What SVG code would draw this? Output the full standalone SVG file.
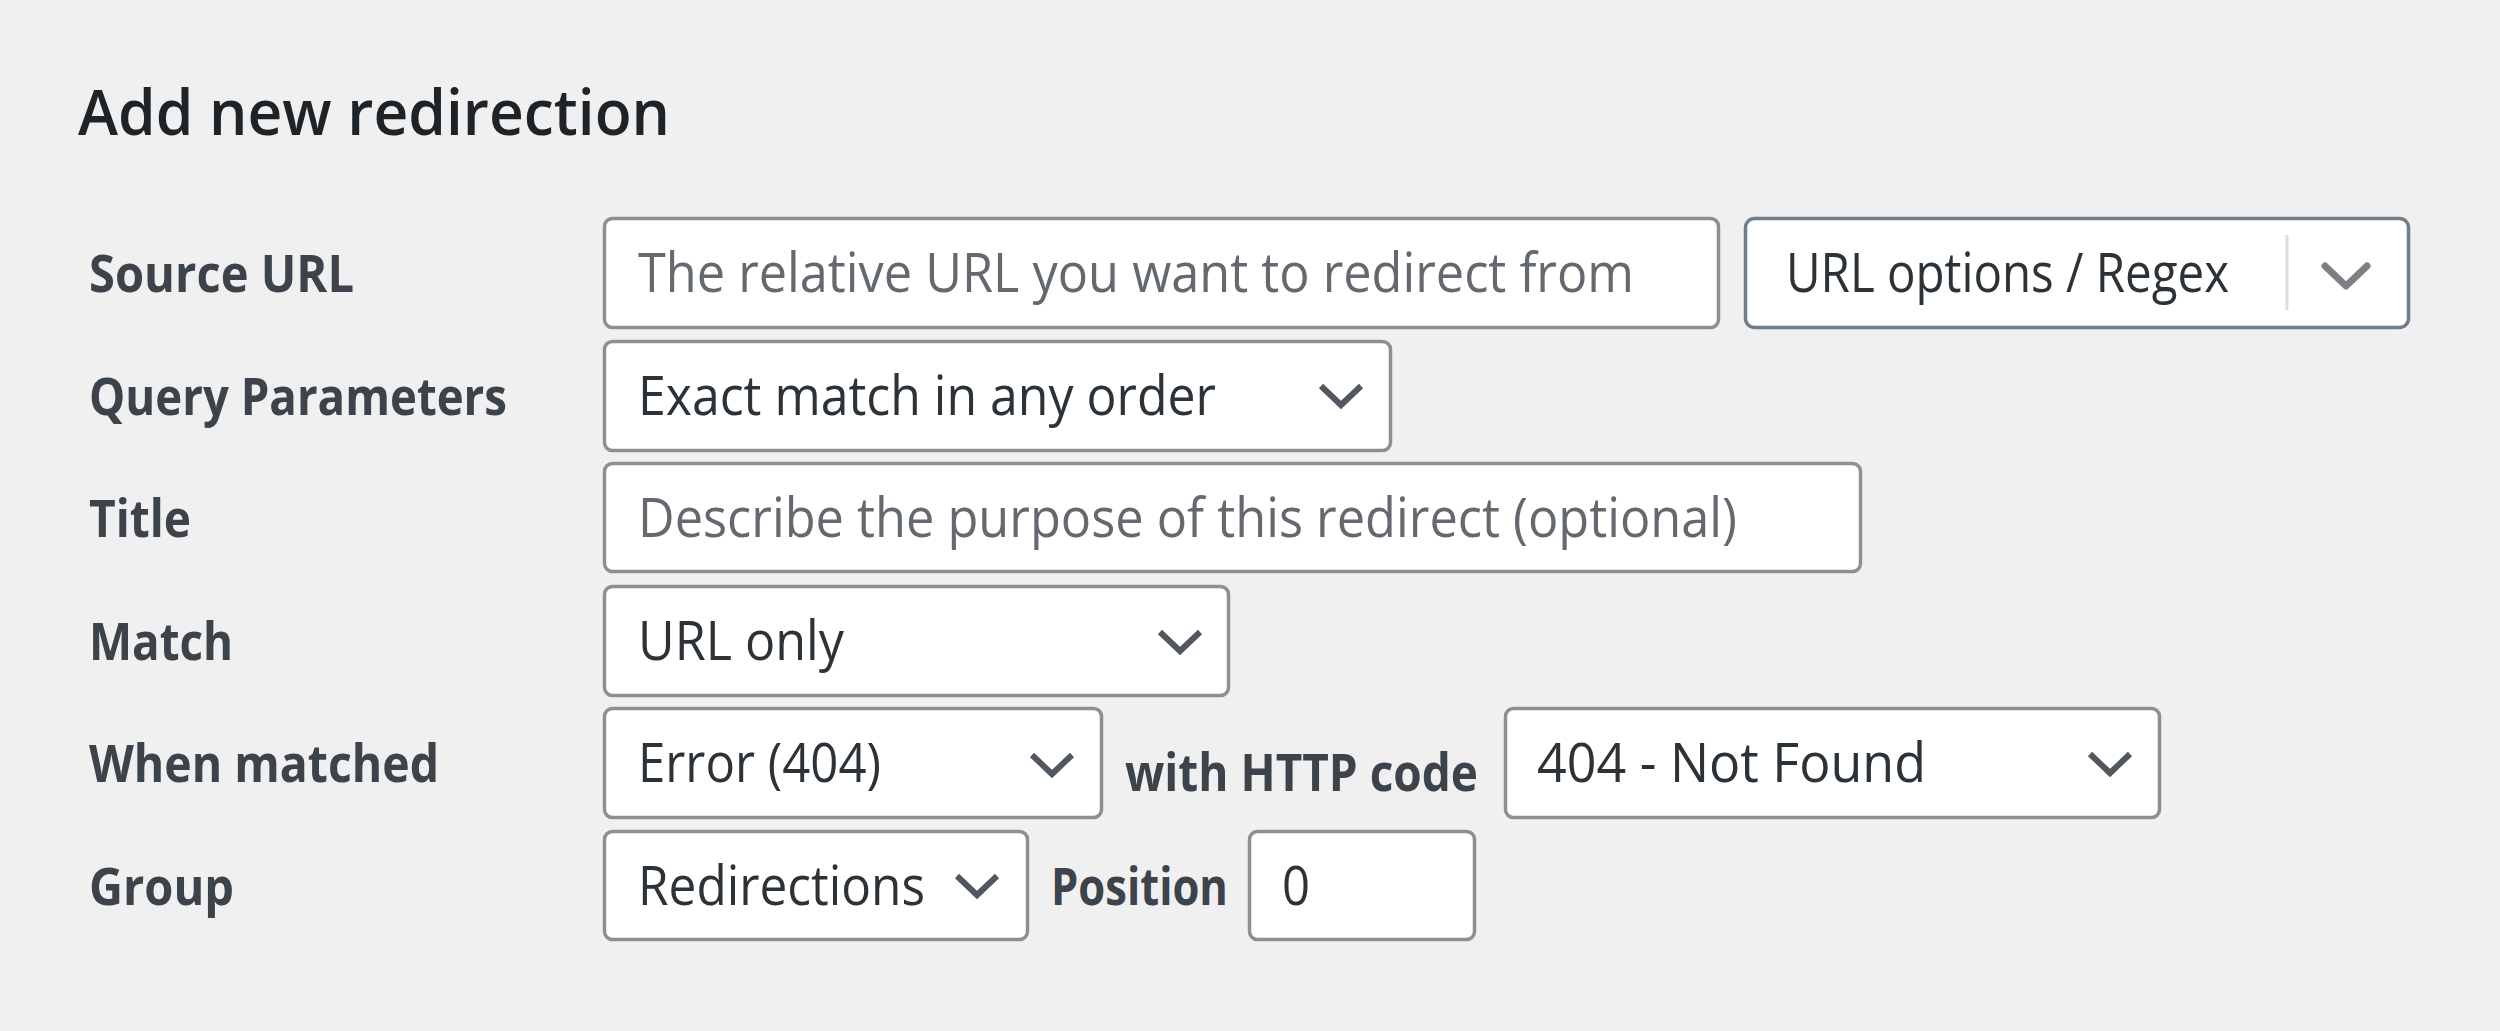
<svg xmlns="http://www.w3.org/2000/svg" xmlns:xlink="http://www.w3.org/1999/xlink" width="2500" height="1031" viewBox="0 0 2500 1031">
<style>
  text { font-family: "Open Sans", "Noto Sans", "Liberation Sans", sans-serif; }
  .title { font-size: 64px; fill: #1d2327; font-weight: 600; }
  .lbl { font-size: 52px; font-weight: 700; fill: #3c434a; }
  .val { font-size: 55px; fill: #2c3338; }
  .ph { font-size: 55px; fill: #646970; }
  .box { fill: #ffffff; stroke: #8c8f94; stroke-width: 3.5; }
  .box2 { fill: #ffffff; stroke: #717e89; stroke-width: 3.5; }
  .chev { fill: none; stroke: #50575e; stroke-width: 6; stroke-linejoin: miter; stroke-linecap: butt; }
  .chev2 { fill: none; stroke: #7c7f83; stroke-width: 7; stroke-linejoin: round; stroke-linecap: round; }
</style>
<defs>
  <path id="chevron" d="M-20,-9 L0,10 L20,-9"/>
  <path id="chevron2" d="M-21,-10 L0,10 L21,-10"/>
</defs>
<rect x="0" y="0" width="2500" height="1031" fill="#f0f0f1"/>
<g id="heading">
  <text class="title" x="78" y="135" textLength="592" lengthAdjust="spacingAndGlyphs">Add new redirection</text>
</g>
<g id="row-source-url">
  <text class="lbl" x="89" y="292" textLength="265" lengthAdjust="spacingAndGlyphs">Source URL</text>
  <g id="source-url-input">
    <rect class="box" x="604.5" y="218.5" width="1114" height="109" rx="8"/>
    <text class="ph" x="638" y="292" textLength="996" lengthAdjust="spacingAndGlyphs">The relative URL you want to redirect from</text>
  </g>
  <g id="url-options">
    <rect class="box2" x="1745.5" y="218.5" width="663" height="109" rx="9"/>
    <text class="val" x="1786" y="292" textLength="443" lengthAdjust="spacingAndGlyphs">URL options / Regex</text>
    <line x1="2287" y1="235" x2="2287" y2="310" stroke="#dcdcde" stroke-width="3"/>
    <use xlink:href="#chevron2" class="chev2" x="2346" y="276"/>
  </g>
</g>
<g id="row-query-parameters">
  <text class="lbl" x="89" y="415" textLength="418" lengthAdjust="spacingAndGlyphs">Query Parameters</text>
  <g id="query-select">
    <rect class="box" x="604.5" y="341.5" width="786" height="109" rx="8"/>
    <text class="val" x="638" y="415" textLength="578" lengthAdjust="spacingAndGlyphs">Exact match in any order</text>
    <use xlink:href="#chevron" class="chev" x="1341" y="395"/>
  </g>
</g>
<g id="row-title">
  <text class="lbl" x="89" y="537" textLength="102" lengthAdjust="spacingAndGlyphs">Title</text>
  <g id="title-input">
    <rect class="box" x="604.5" y="463.5" width="1256" height="108" rx="8"/>
    <text class="ph" x="638" y="537" textLength="1099" lengthAdjust="spacingAndGlyphs">Describe the purpose of this redirect (optional)</text>
  </g>
</g>
<g id="row-match">
  <text class="lbl" x="89" y="660" textLength="144" lengthAdjust="spacingAndGlyphs">Match</text>
  <g id="match-select">
    <rect class="box" x="604.5" y="586.5" width="624" height="109" rx="8"/>
    <text class="val" x="638" y="660" textLength="206" lengthAdjust="spacingAndGlyphs">URL only</text>
    <use xlink:href="#chevron" class="chev" x="1180" y="641"/>
  </g>
</g>
<g id="row-when-matched">
  <text class="lbl" x="89" y="782" textLength="350" lengthAdjust="spacingAndGlyphs">When matched</text>
  <g id="action-select">
    <rect class="box" x="604.5" y="708.5" width="497" height="109" rx="8"/>
    <text class="val" x="638" y="782" textLength="243" lengthAdjust="spacingAndGlyphs">Error (404)</text>
    <use xlink:href="#chevron" class="chev" x="1052" y="764"/>
  </g>
  <text class="lbl" x="1125" y="791" textLength="353" lengthAdjust="spacingAndGlyphs">with HTTP code</text>
  <g id="http-code-select">
    <rect class="box" x="1505.5" y="708.5" width="654" height="109" rx="8"/>
    <text class="val" x="1537" y="782" textLength="389" lengthAdjust="spacingAndGlyphs">404 - Not Found</text>
    <use xlink:href="#chevron" class="chev" x="2110" y="763"/>
  </g>
</g>
<g id="row-group">
  <text class="lbl" x="89" y="905" textLength="145" lengthAdjust="spacingAndGlyphs">Group</text>
  <g id="group-select">
    <rect class="box" x="604.5" y="831.5" width="423" height="108" rx="8"/>
    <text class="val" x="638" y="905" textLength="287" lengthAdjust="spacingAndGlyphs">Redirections</text>
    <use xlink:href="#chevron" class="chev" x="977" y="885"/>
  </g>
  <text class="lbl" x="1051" y="905" textLength="177" lengthAdjust="spacingAndGlyphs">Position</text>
  <g id="position-input">
    <rect class="box" x="1249.5" y="831.5" width="225" height="108" rx="8"/>
    <text class="val" x="1282" y="905" textLength="28" lengthAdjust="spacingAndGlyphs">0</text>
  </g>
</g>
</svg>
